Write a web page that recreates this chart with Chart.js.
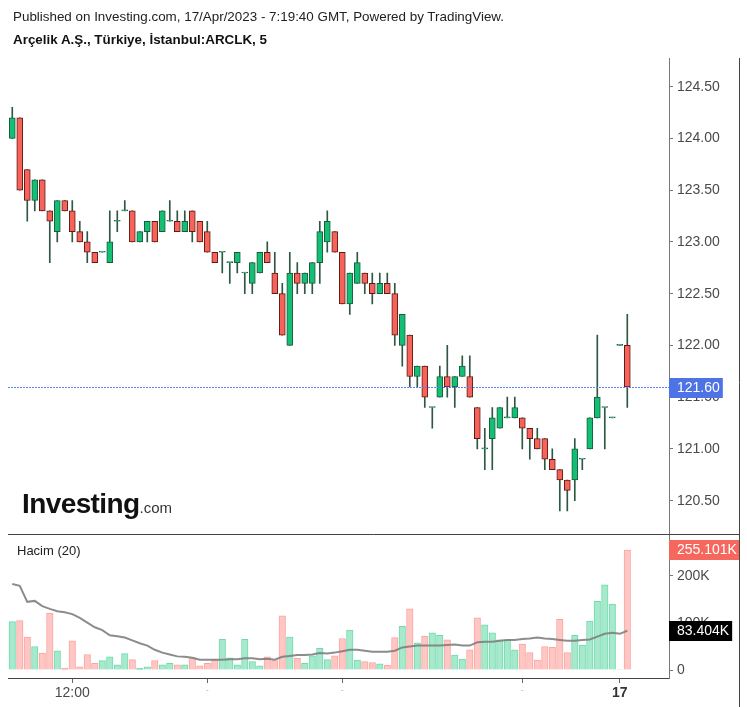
<!DOCTYPE html>
<html>
<head>
<meta charset="utf-8">
<script src="https://cdn.jsdelivr.net/npm/chart.js@4.4.0/dist/chart.umd.min.js"></script>
<style>
html,body{margin:0;padding:0;background:#fff;}
#wrap{position:relative;width:747px;height:707px;overflow:hidden;font-family:"Liberation Sans",Arial,sans-serif;}
#c{position:absolute;left:0;top:0;}
#t1{position:absolute;left:13px;top:9px;font-size:13.4px;line-height:16px;color:#222;white-space:nowrap;}
#t2{position:absolute;left:13px;top:32px;font-size:13.4px;line-height:16px;font-weight:bold;color:#111;white-space:nowrap;}
#hacim{position:absolute;left:17px;top:543px;font-size:13px;line-height:15px;color:#222;}
#logo{position:absolute;left:22px;top:489px;white-space:nowrap;line-height:30px;color:#111;}
#logo .a{font-size:28px;font-weight:bold;letter-spacing:-0.6px;}
#logo .b{font-size:15px;color:#333;}
</style>
</head>
<body>
<div id="wrap">
<canvas id="c" width="747" height="707"></canvas>
<div id="t1">Published on Investing.com, 17/Apr/2023 - 7:19:40 GMT, Powered by TradingView.</div>
<div id="t2">Arçelik A.Ş., Türkiye, İstanbul:ARCLK, 5</div>
<div id="logo"><span class="a">Investing</span><span class="b">.com</span></div>
<div id="hacim">Hacim (20)</div>
</div>
<script>
// ---- data (5-minute candles) ----
const opens  = [124.0,124.2,123.7,123.4,123.6,123.3,123.1,123.4,123.3,123.1,123.0,122.9,122.9,122.8,123.2,123.3,123.3,123.0,123.1,123.2,
                123.1,123.2,123.2,123.1,123.3,123.2,123.1,122.9,122.9,122.8,122.8,122.7,122.6,122.7,122.9,122.7,122.5,122.0,122.7,122.6,
                122.6,122.8,123.0,123.1,122.9,122.4,122.6,122.7,122.6,122.5,122.6,122.5,122.0,122.1,121.7,121.8,121.4,121.5,121.7,121.6,
                121.7,121.7,121.4,121.0,121.1,121.2,121.3,121.3,121.3,121.2,121.1,121.1,120.9,120.8,120.7,120.7,120.9,121.0,121.3,121.4,
                121.3,122.0,122.0];
const highs  = [124.3,124.2,123.7,123.6,123.6,123.3,123.4,123.4,123.4,123.2,123.1,122.9,122.9,123.3,123.3,123.4,123.3,123.1,123.2,123.2,
                123.3,123.4,123.3,123.3,123.3,123.2,123.2,122.9,122.9,122.8,122.9,122.7,122.8,122.9,123.0,122.9,122.6,122.9,122.8,122.7,
                122.8,123.2,123.3,123.1,122.9,122.7,122.9,122.7,122.7,122.7,122.7,122.6,122.3,122.1,121.8,121.8,121.4,121.8,122.0,121.7,
                121.9,121.9,121.4,121.2,121.4,121.4,121.5,121.5,121.3,121.2,121.2,121.1,121.0,120.8,120.7,121.1,120.9,121.3,122.1,121.4,
                121.3,122.0,122.3];
const lows   = [124.0,123.5,123.2,123.3,123.3,122.8,123.0,123.3,123.0,123.0,122.8,122.8,122.9,122.8,123.1,123.3,123.0,123.0,123.0,123.0,
                123.1,123.2,123.1,123.1,123.0,123.0,122.9,122.8,122.7,122.6,122.7,122.5,122.5,122.7,122.8,122.5,122.1,122.0,122.5,122.5,
                122.5,122.6,122.9,122.9,122.4,122.3,122.6,122.5,122.4,122.5,122.5,122.0,121.8,121.6,121.6,121.4,121.2,121.5,121.5,121.4,
                121.7,121.5,121.0,120.8,120.8,121.2,121.3,121.3,121.0,120.9,121.0,120.8,120.8,120.4,120.4,120.5,120.8,121.0,121.3,121.0,
                121.3,122.0,121.4];
const closes = [124.2,123.5,123.4,123.6,123.3,123.2,123.4,123.3,123.1,123.0,122.9,122.8,122.9,123.0,123.2,123.3,123.0,123.1,123.2,123.0,
                123.3,123.2,123.1,123.2,123.1,123.0,122.9,122.8,122.9,122.8,122.9,122.7,122.8,122.9,122.8,122.5,122.1,122.7,122.6,122.7,
                122.8,123.1,123.2,122.9,122.4,122.7,122.8,122.6,122.5,122.6,122.5,122.1,122.3,121.7,121.8,121.5,121.4,121.7,121.6,121.7,
                121.8,121.5,121.1,121.0,121.3,121.4,121.3,121.4,121.2,121.1,121.0,120.9,120.8,120.7,120.6,121.0,120.9,121.3,121.5,121.4,
                121.3,122.0,121.6];
// volume in thousands
const volumes = [103,105,70,50,36,121,41,4,62,7,33,14,20,28,11,35,22,4,7,20,
                 11,14,11,11,26,9,14,22,65,26,11,65,18,9,28,20,115,70,25,14,
                 30,46,22,30,67,85,21,18,16,13,10,69,93,130,58,72,79,74,64,32,
                 23,43,111,96,79,64,64,43,55,37,21,50,48,108,37,74,53,104,146,181,
                 140,1,255.101];
// volume moving average (20) in thousands
const volumeMA = [183,179,145,147,136,130,125,123,119,111,101,91,85,74,72,69,63,57,52,43,
                  37,33,29,28,26,22,22,22,22,23,23,25,25,23,24,22,28,30,32,32,
                  33,36,35,37,40,43,43,41,39,39,39,41,48,50,52,52,52,52,53,54,
                  52,52,59,60,60,62,64,64,66,67,69,67,66,64,62,62,64,65,71,77,
                  79,77,83.404];
const xTickIdx    = [8, 26, 44, 68, 81];
const xTickLabels = ['12:00', '-', '-', '-', '17'];
const priceTicks  = [120.5,121.0,121.5,122.0,122.5,123.0,123.5,124.0,124.5];
const volumeTicks = [0, 100, 200];
const lastPrice = 121.60;

// ---- styling ----
const GREEN='#12bf74', RED='#f6635a', GREEN_B='#1d5a3a', RED_B='#5e1b15', WICK='#2f5843';
const VG='#a6e9cd', VGB='#6fdbab', VR='#ffc7c4', VRB='#fba5a1';
const FONT="'Liberation Sans', Arial, sans-serif";
Chart.defaults.font.family = FONT;

const idx = opens.map((_, i) => i);
const up = idx.map(i => closes[i] >= opens[i]);

const overlay = {
  id: 'overlay',
  afterDraw(chart) {
    const c = chart.ctx, ca = chart.chartArea;
    const ys = chart.scales.y, yv = chart.scales.yv;
    const right = chart.width - 8;
    c.save();
    c.strokeStyle = '#444'; c.lineWidth = 1;
    c.beginPath();
    c.moveTo(ca.left, Math.round(ys.bottom) + 0.5); c.lineTo(right, Math.round(ys.bottom) + 0.5);
    c.moveTo(right + 0.5, ca.top); c.lineTo(right + 0.5, chart.height);
    c.stroke();
    const py = Math.round(ys.getPixelForValue(lastPrice)) + 0.5;
    c.strokeStyle = '#5b80f0'; c.setLineDash([2, 1]);
    c.beginPath(); c.moveTo(ca.left, py); c.lineTo(ca.right, py); c.stroke();
    c.setLineDash([]);
    c.font = '14px ' + FONT; c.textBaseline = 'middle'; c.textAlign = 'left';
    const box = (y, txt, bg, w) => {
      const tw = c.measureText(txt).width;
      const bw = w || tw + 11;
      c.fillStyle = bg; c.fillRect(ca.right, Math.round(y) - 10, bw, 20);
      c.fillStyle = '#fff'; c.fillText(txt, ca.right + 8, y + 0.5);
    };
    box(py, lastPrice.toFixed(2), '#4e73e4');
    box(yv.getPixelForValue(volumes[volumes.length - 1]), volumes[volumes.length - 1].toFixed(3) + 'K', '#f6675e', right - ca.right);
    box(yv.getPixelForValue(volumeMA[volumeMA.length - 1]), volumeMA[volumeMA.length - 1].toFixed(3) + 'K', '#000');
    c.restore();
  }
};

new Chart(document.getElementById('c'), {
  type: 'bar',
  data: {
    datasets: [
      {
        label: 'wick', yAxisID: 'y', xAxisID: 'x', grouped: false, order: 3,
        data: idx.map(i => ({ x: i, y: [lows[i], highs[i]] })),
        backgroundColor: WICK, borderWidth: 0, barThickness: 1
      },
      {
        label: 'body', yAxisID: 'y', xAxisID: 'x', grouped: false, order: 1,
        data: idx.map(i => ({ x: i, y: [opens[i], closes[i]] })),
        backgroundColor: idx.map(i => up[i] ? GREEN : RED),
        borderColor: idx.map(i => up[i] ? GREEN_B : RED_B),
        borderWidth: 1, borderSkipped: false, barThickness: 6, minBarLength: 1
      },
      {
        label: 'vol', yAxisID: 'yv', xAxisID: 'x', grouped: false, order: 2,
        data: idx.map(i => ({ x: i, y: volumes[i] })),
        backgroundColor: idx.map(i => up[i] ? VG : VR),
        borderColor: idx.map(i => up[i] ? VGB : VRB),
        borderWidth: 1, barThickness: 6.5
      },
      {
        type: 'line', label: 'ma', yAxisID: 'yv', xAxisID: 'x', order: 0,
        data: idx.map(i => ({ x: i, y: volumeMA[i] })),
        borderColor: 'rgba(128,128,128,0.9)', borderWidth: 2, pointRadius: 0, tension: 0, fill: false
      }
    ]
  },
  options: {
    responsive: false, animation: false,
    layout: { padding: { left: 8, top: 58, right: 8, bottom: 0 } },
    plugins: { legend: { display: false }, tooltip: { enabled: false } },
    scales: {
      x: {
        type: 'linear', position: 'bottom', min: -0.57, max: 87.56, offset: false,
        grid: { drawOnChartArea: false, offset: false, tickLength: 5, tickColor: '#666' },
        border: { color: '#444' },
        afterBuildTicks: s => { s.ticks = xTickIdx.map(v => ({ value: v })); },
        afterFit: s => { s.height = 29; },
        ticks: {
          autoSkip: false, maxRotation: 0, padding: 2,
          callback: v => { const k = xTickIdx.indexOf(v); return k >= 0 ? xTickLabels[k] : ''; },
          font: ctx => {
            const k = ctx.tick ? xTickIdx.indexOf(ctx.tick.value) : -1;
            const l = k >= 0 ? xTickLabels[k] : '';
            if (l === '17') return { size: 14, weight: 'bold' };
            if (l === '-') return { size: 9 };
            return { size: 14 };
          },
          color: ctx => {
            const k = ctx.tick ? xTickIdx.indexOf(ctx.tick.value) : -1;
            const l = k >= 0 ? xTickLabels[k] : '';
            return l === '-' ? '#bbb' : (l === '17' ? '#333' : '#4a4a4a');
          }
        }
      },
      y: {
        type: 'linear', position: 'right', stack: 'panes', stackWeight: 475.5,
        min: 120.183, max: 124.777,
        grid: { drawOnChartArea: false, tickLength: 4, tickColor: '#777' },
        border: { color: '#777' },
        afterBuildTicks: s => { s.ticks = priceTicks.map(v => ({ value: v })); },
        afterFit: s => { s.width = 70; },
        ticks: { padding: 4, color: '#4a4a4a', font: { size: 14 }, callback: v => v.toFixed(2) }
      },
      yv: {
        type: 'linear', position: 'right', stack: 'panes', stackWeight: 144.5,
        min: -17, max: 290.4,
        grid: { drawOnChartArea: false, tickLength: 4, tickColor: '#777' },
        border: { color: '#777' },
        afterBuildTicks: s => { s.ticks = volumeTicks.map(v => ({ value: v })); },
        afterFit: s => { s.width = 70; },
        ticks: { padding: 4, color: '#4a4a4a', font: { size: 14 }, callback: v => v === 0 ? '0' : v + 'K' }
      }
    }
  },
  plugins: [overlay]
});
</script>
</body>
</html>
